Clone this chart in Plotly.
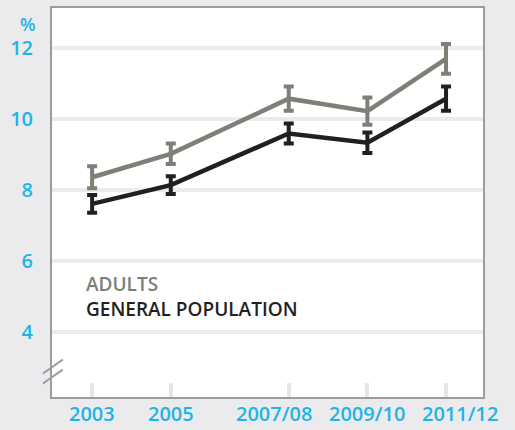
import plotly.graph_objects as go

# Survey periods (x positioned by survey end year) and labels
periods = [2003, 2005, 2008, 2010, 2012]
period_labels = ["2003", "2005", "2007/08", "2009/10", "2011/12"]
# horizontal nudges so the longer labels don't crowd each other
label_shift = [0, 0, -15, 0, 14]

# Prevalence (%) with confidence half-widths
adults = [8.36, 9.02, 10.57, 10.22, 11.69]
adults_err = [0.31, 0.29, 0.34, 0.38, 0.42]
general = [7.61, 8.14, 9.59, 9.33, 10.57]
general_err = [0.25, 0.25, 0.28, 0.29, 0.34]

y_ticks = [4, 6, 8, 10, 12]

GREY = "#7c8077"
BLACK = "#231f20"
CYAN = "#1fb4e6"
BG = "#ebebed"
FRAME = "#9c9ca0"
FONT = "Open Sans"
LABEL_FONT = dict(color=CYAN, size=20, family=FONT, weight=600)

fig = go.Figure()

for vals, errs, color in [(adults, adults_err, GREY), (general, general_err, BLACK)]:
    fig.add_trace(go.Scatter(
        x=periods, y=vals, mode="lines",
        line=dict(color=color, width=4.5),
        error_y=dict(type="data", array=errs, visible=True,
                     color=color, thickness=4, width=5),
        showlegend=False, hoverinfo="skip",
    ))

fig.update_layout(
    width=515, height=430,
    margin=dict(l=52, r=32, t=6, b=33),
    paper_bgcolor=BG, plot_bgcolor="white",
    font=dict(family=FONT),
    xaxis=dict(
        range=[2001.98, 2012.94],
        tickvals=periods, showticklabels=False,
        ticks="inside", ticklen=14, tickwidth=4, tickcolor="#e6e6e8",
        showgrid=False, zeroline=False,
        showline=True, linecolor=FRAME, linewidth=2, mirror=True,
    ),
    yaxis=dict(
        range=[2.18, 13.12],
        tickvals=y_ticks,
        tickfont=LABEL_FONT,
        ticks="", ticklabelstandoff=13,
        showgrid=True, gridcolor=BG, gridwidth=4, zeroline=False,
        showline=True, linecolor=FRAME, linewidth=2, mirror=True,
    ),
)

# Period labels under the x axis
for p, lab, dx in zip(periods, period_labels, label_shift):
    fig.add_annotation(
        text=lab, xref="x", yref="paper", x=p, y=0,
        xanchor="center", yanchor="middle", xshift=dx, yshift=-16,
        showarrow=False, font=LABEL_FONT,
    )

# Unit label above the y axis
fig.add_annotation(
    text="%", xref="paper", yref="paper", x=0, y=0.96,
    xanchor="right", yanchor="middle", xshift=-14, showarrow=False,
    font=dict(color=CYAN, size=18, family=FONT, weight=600),
)

# Series labels inside the plot
fig.add_annotation(
    text=(f"<span style='color:{GREY}'>ADULTS</span><br>"
          f"<span style='color:{BLACK}'>GENERAL POPULATION</span>"),
    xref="paper", yref="y", x=0.075, y=5.0,
    xanchor="left", yanchor="middle", align="left", showarrow=False,
    font=dict(color=BLACK, size=19, family=FONT, weight=600),
)

# Axis break marks on the y axis
for y0, y1 in [(2.84, 3.23), (2.56, 2.95)]:
    fig.add_shape(type="line", xref="paper", yref="y",
                  x0=-0.021, x1=0.025, y0=y0, y1=y1,
                  line=dict(color=FRAME, width=2))

fig.write_html("out.html")
